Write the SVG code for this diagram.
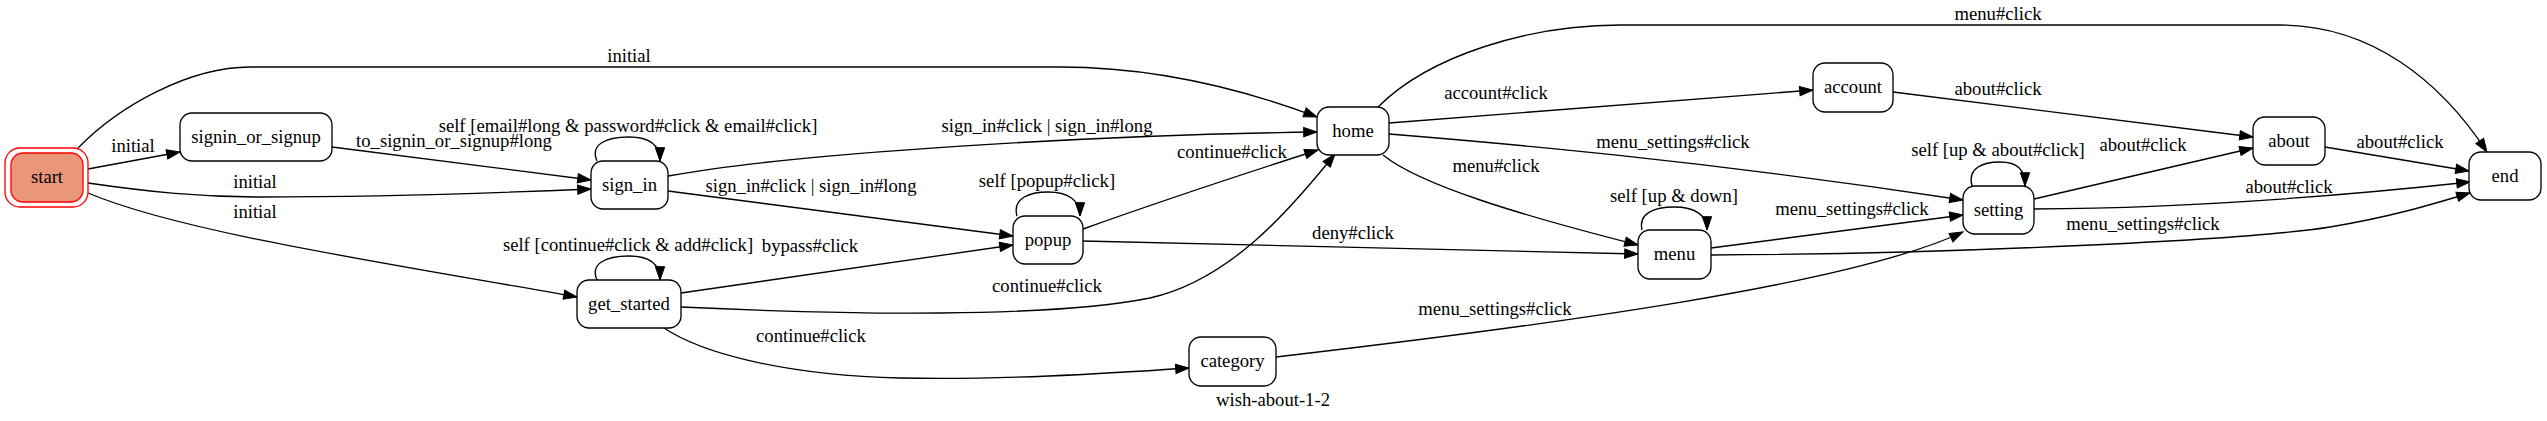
<svg xmlns="http://www.w3.org/2000/svg" width="2547" height="421" viewBox="0 0 2547 421">
<style>
text{font-family:"Liberation Serif","Times New Roman",serif;font-size:18.67px;fill:#000;text-anchor:middle}
.n{fill:#fff;stroke:#000;stroke-width:1.33}
.e{fill:none;stroke:#000;stroke-width:1.33;marker-end:url(#arr)}
</style>
<defs>
<marker id="arr" markerUnits="userSpaceOnUse" markerWidth="14" markerHeight="10" refX="13.3" refY="4.67" orient="auto" overflow="visible">
<path d="M0,0 L13.3,4.67 L0,9.33 z" fill="#000" stroke="#000" stroke-width="1"/>
</marker>
</defs>
<rect width="2547" height="421" fill="#fff"/>
<g id="connectors">
<path class="e" d="M78,148 C120,105 190,67 250,67 L1060,67 C1150,67 1240,88 1317,117"/>
<text x="629" y="62">initial</text>
<path class="e" d="M88,169 L180,152"/>
<text x="133" y="152">initial</text>
<path class="e" d="M88,183 C150,192 200,197 260,197 C400,197 520,192 591,189"/>
<text x="255" y="188">initial</text>
<path class="e" d="M88,193 C180,232 380,262 577,297"/>
<text x="255" y="218">initial</text>
<path class="e" d="M332,147 L591,180"/>
<text x="454" y="147">to_signin_or_signup#long</text>
<path class="e" d="M597,161 C590,145 605,137 629,137 C650,137 660,145 660,161"/>
<text x="628" y="132">self [email#long &amp; password#click &amp; email#click]</text>
<path class="e" d="M597,280 C590,264 605,256 629,256 C650,256 660,264 660,280"/>
<text x="628" y="251">self [continue#click &amp; add#click]</text>
<path class="e" d="M668,176 C800,152 1100,135 1317,132"/>
<text x="1047" y="132">sign_in#click | sign_in#long</text>
<path class="e" d="M668,191 L1013,236"/>
<text x="811" y="192">sign_in#click | sign_in#long</text>
<path class="e" d="M681,293 L1013,245"/>
<text x="810" y="252">bypass#click</text>
<path class="e" d="M681,307 C850,315 1050,318 1150,298 C1230,280 1290,210 1335,154"/>
<text x="1047" y="292">continue#click</text>
<path class="e" d="M664,328 C700,352 780,375 900,378 C1000,380 1100,374 1189,368"/>
<text x="811" y="342">continue#click</text>
<path class="e" d="M1017,216 C1012,198 1030,192 1048,192 C1068,192 1080,200 1080,216"/>
<text x="1047" y="187">self [popup#click]</text>
<path class="e" d="M1083,229 C1150,205 1240,175 1318,150"/>
<text x="1232" y="158">continue#click</text>
<path class="e" d="M1083,241 L1638,254"/>
<text x="1353" y="239">deny#click</text>
<path class="e" d="M1276,357 C1550,325 1850,285 1963,232"/>
<text x="1495" y="315">menu_settings#click</text>
<path class="e" d="M1378,107 C1430,55 1530,25 1620,25 L2280,25 C2370,25 2440,80 2487,152"/>
<text x="1998" y="20">menu#click</text>
<path class="e" d="M1389,123 L1813,90"/>
<text x="1496" y="99">account#click</text>
<path class="e" d="M1389,134 C1500,143 1700,160 1963,200"/>
<text x="1673" y="148">menu_settings#click</text>
<path class="e" d="M1383,155 C1420,185 1520,215 1638,245"/>
<text x="1496" y="172">menu#click</text>
<path class="e" d="M1642,230 C1638,213 1655,207 1674,207 C1695,207 1707,215 1707,230"/>
<text x="1674" y="202">self [up &amp; down]</text>
<path class="e" d="M1711,248 L1963,215"/>
<text x="1852" y="215">menu_settings#click</text>
<path class="e" d="M1711,255 C1950,254 2250,240 2330,227 C2390,217 2430,205 2470,193"/>
<text x="2143" y="230">menu_settings#click</text>
<path class="e" d="M1972,186 C1967,168 1983,162 2000,162 C2018,162 2025,170 2025,186"/>
<text x="1998" y="156">self [up &amp; about#click]</text>
<path class="e" d="M2034,199 L2253,148"/>
<text x="2143" y="151">about#click</text>
<path class="e" d="M2034,209 C2200,208 2350,195 2470,182"/>
<text x="2289" y="193">about#click</text>
<path class="e" d="M1893,92 L2253,137"/>
<text x="1998" y="95">about#click</text>
<path class="e" d="M2325,147 L2469,171"/>
<text x="2400" y="148">about#click</text>
</g>
<g id="start">
<rect x="5" y="148" width="83" height="59" rx="15" fill="none" stroke="#ff0000" stroke-width="1.33"/>
<rect x="11" y="153" width="72" height="49" rx="12" fill="#e9967a" stroke="#ff0000" stroke-width="1.33"/>
<text x="47" y="183">start</text>
</g>
<g id="signin_or_signup"><rect class="n" x="180" y="113" width="152" height="48" rx="12"/><text x="256" y="143">signin_or_signup</text></g>
<g id="sign_in"><rect class="n" x="591" y="161" width="77" height="48" rx="12"/><text x="629.5" y="191">sign_in</text></g>
<g id="get_started"><rect class="n" x="577" y="280" width="104" height="48" rx="12"/><text x="629" y="310">get_started</text></g>
<g id="popup"><rect class="n" x="1013" y="216" width="70" height="48" rx="12"/><text x="1048" y="246">popup</text></g>
<g id="home"><rect class="n" x="1317" y="107" width="72" height="48" rx="12"/><text x="1353" y="137">home</text></g>
<g id="category"><rect class="n" x="1189" y="337" width="87" height="49" rx="12"/><text x="1232.5" y="367">category</text></g>
<g id="menu"><rect class="n" x="1638" y="230" width="73" height="49" rx="12"/><text x="1674.5" y="260">menu</text></g>
<g id="account"><rect class="n" x="1813" y="63" width="80" height="49" rx="12"/><text x="1853" y="93">account</text></g>
<g id="setting"><rect class="n" x="1963" y="186" width="71" height="48" rx="12"/><text x="1998.5" y="216">setting</text></g>
<g id="about"><rect class="n" x="2253" y="117" width="72" height="48" rx="12"/><text x="2289" y="147">about</text></g>
<g id="end"><rect class="n" x="2469" y="152" width="72" height="48" rx="12"/><text x="2505" y="182">end</text></g>
<text x="1273" y="406">wish-about-1-2</text>
</svg>
